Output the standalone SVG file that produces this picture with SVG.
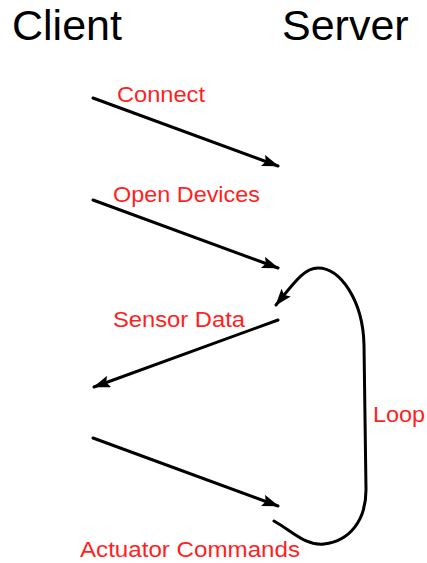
<svg xmlns="http://www.w3.org/2000/svg" width="427" height="563" viewBox="0 0 427 563">
  <defs>
    <marker id="arrow" markerUnits="userSpaceOnUse" markerWidth="17" markerHeight="12" refX="16" refY="6" orient="auto">
      <path d="M0,0 L17,6 L0,12 L3,6 z" fill="#000"/>
    </marker>
    <style>
      .title { font-family: "Liberation Sans", Arial, sans-serif; font-size: 43px; fill: #000; }
      .label { font-family: "Liberation Sans", Arial, sans-serif; font-size: 22px; fill: #ff1f1f; }
      .msg { fill: none; stroke: #000; stroke-width: 3; stroke-linecap: round; marker-end: url(#arrow); }
    </style>
  </defs>
  <rect width="427" height="563" fill="#fff"/>

  <g id="client">
    <text class="title" x="12" y="40">Client</text>
  </g>
  <g id="server">
    <text class="title" x="282" y="40">Server</text>
  </g>

  <g id="connectors">
    <line class="msg" x1="93" y1="98" x2="278" y2="166"/>
    <line class="msg" x1="93" y1="200" x2="278" y2="268"/>
    <line class="msg" x1="278" y1="320" x2="94" y2="387"/>
    <line class="msg" x1="93" y1="438" x2="278" y2="506"/>
    <path id="loop" class="msg" d="M274,521 C292,531 305,546 324,544 C350,541 366,520 366,490 L364,345 C363,300 340,268 318,268 C304,268 294,283 276,305"/>
  </g>

  <g id="labels">
    <text class="label" x="117" y="102" textLength="88" lengthAdjust="spacingAndGlyphs">Connect</text>
    <text class="label" x="113" y="202" textLength="147" lengthAdjust="spacingAndGlyphs">Open Devices</text>
    <text class="label" x="113" y="327" textLength="132" lengthAdjust="spacingAndGlyphs">Sensor Data</text>
    <text class="label" x="373" y="422" textLength="52" lengthAdjust="spacingAndGlyphs">Loop</text>
    <text class="label" x="80" y="557" textLength="220" lengthAdjust="spacingAndGlyphs">Actuator Commands</text>
  </g>
</svg>
